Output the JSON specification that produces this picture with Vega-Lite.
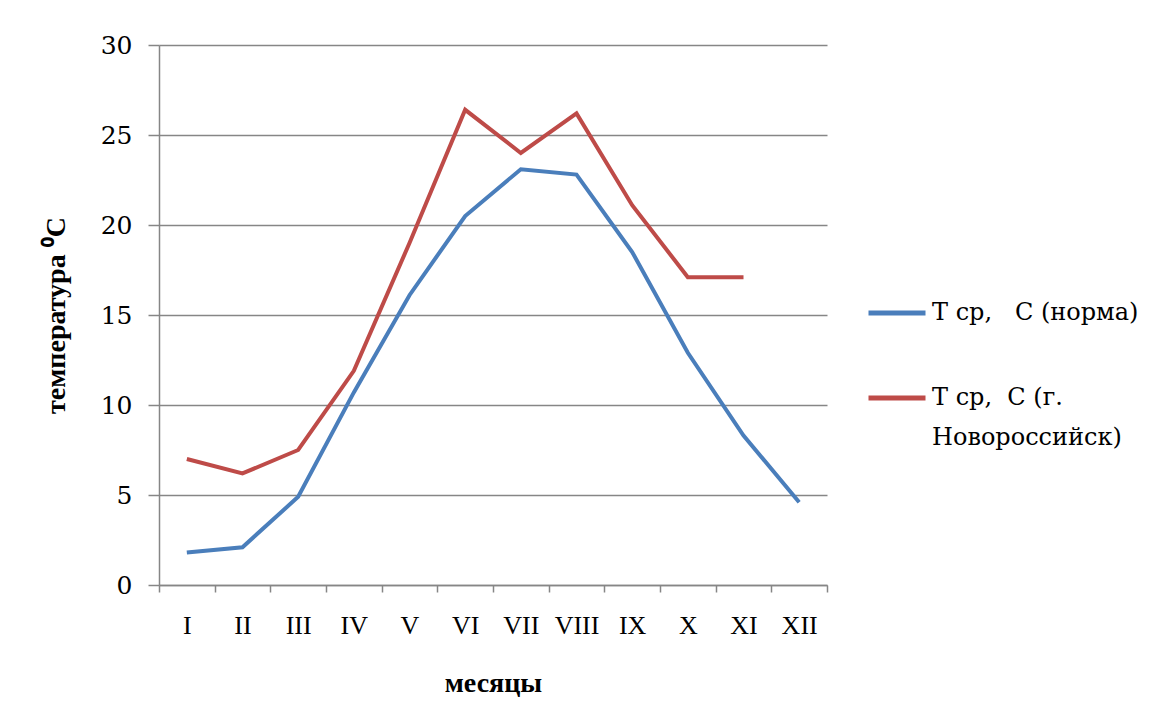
{
  "$schema": "https://vega.github.io/schema/vega-lite/v6.json",
  "width": 668,
  "height": 540,
  "autosize": {"type": "none"},
  "padding": {"left": 159, "top": 45, "right": 335, "bottom": 141},
  "background": "white",
  "config": {
    "view": {"stroke": null},
    "axis": {"labelColor": "black", "titleColor": "black"},
    "legend": {"labelColor": "black"},
    "style": {"guide-label": {"lineHeight": 40}}
  },
  "data": {
    "values": [
      {"month": "I", "series": "Т ср,\u00a0\u00a0 С (норма)", "t": 1.8},
      {"month": "II", "series": "Т ср,\u00a0\u00a0 С (норма)", "t": 2.1},
      {"month": "III", "series": "Т ср,\u00a0\u00a0 С (норма)", "t": 4.9},
      {"month": "IV", "series": "Т ср,\u00a0\u00a0 С (норма)", "t": 10.7},
      {"month": "V", "series": "Т ср,\u00a0\u00a0 С (норма)", "t": 16.1},
      {"month": "VI", "series": "Т ср,\u00a0\u00a0 С (норма)", "t": 20.5},
      {"month": "VII", "series": "Т ср,\u00a0\u00a0 С (норма)", "t": 23.1},
      {"month": "VIII", "series": "Т ср,\u00a0\u00a0 С (норма)", "t": 22.8},
      {"month": "IX", "series": "Т ср,\u00a0\u00a0 С (норма)", "t": 18.5},
      {"month": "X", "series": "Т ср,\u00a0\u00a0 С (норма)", "t": 12.9},
      {"month": "XI", "series": "Т ср,\u00a0\u00a0 С (норма)", "t": 8.3},
      {"month": "XII", "series": "Т ср,\u00a0\u00a0 С (норма)", "t": 4.6},
      {"month": "I", "series": "Т ср,\u00a0 С (г. Новороссийск)", "t": 7.0},
      {"month": "II", "series": "Т ср,\u00a0 С (г. Новороссийск)", "t": 6.2},
      {"month": "III", "series": "Т ср,\u00a0 С (г. Новороссийск)", "t": 7.5},
      {"month": "IV", "series": "Т ср,\u00a0 С (г. Новороссийск)", "t": 11.9},
      {"month": "V", "series": "Т ср,\u00a0 С (г. Новороссийск)", "t": 19.0},
      {"month": "VI", "series": "Т ср,\u00a0 С (г. Новороссийск)", "t": 26.4},
      {"month": "VII", "series": "Т ср,\u00a0 С (г. Новороссийск)", "t": 24.0},
      {"month": "VIII", "series": "Т ср,\u00a0 С (г. Новороссийск)", "t": 26.2},
      {"month": "IX", "series": "Т ср,\u00a0 С (г. Новороссийск)", "t": 21.1},
      {"month": "X", "series": "Т ср,\u00a0 С (г. Новороссийск)", "t": 17.1},
      {"month": "XI", "series": "Т ср,\u00a0 С (г. Новороссийск)", "t": 17.1}
    ]
  },
  "mark": {"type": "line", "strokeWidth": 4, "strokeJoin": "miter"},
  "encoding": {
    "x": {
      "field": "month",
      "type": "nominal",
      "sort": ["I", "II", "III", "IV", "V", "VI", "VII", "VIII", "IX", "X", "XI", "XII"],
      "scale": {"type": "band", "paddingInner": 0, "paddingOuter": 0},
      "axis": {
        "title": "месяцы",
        "titleFont": "Liberation Serif",
        "titleFontSize": 28,
        "titleFontWeight": "bold",
        "titlePadding": 31,
        "labelFont": "Liberation Serif",
        "labelFontSize": 26,
        "labelAngle": 0,
        "labelPadding": 20,
        "tickBand": "extent",
        "tickSize": 7,
        "tickColor": "#868686",
        "tickWidth": 1.5,
        "domainColor": "#868686",
        "domainWidth": 1.5,
        "grid": false
      }
    },
    "y": {
      "field": "t",
      "type": "quantitative",
      "scale": {"domain": [0, 30], "nice": false},
      "axis": {
        "title": "температура ⁰С",
        "titleFont": "Liberation Serif",
        "titleFontSize": 28,
        "titleFontWeight": "bold",
        "titlePadding": 30,
        "labelFont": "DejaVu Serif",
        "labelFontSize": 25,
        "labelPadding": 16,
        "values": [0, 5, 10, 15, 20, 25, 30],
        "tickSize": 11,
        "tickColor": "#868686",
        "tickWidth": 1.5,
        "domainColor": "#868686",
        "domainWidth": 1.5,
        "gridColor": "#868686",
        "gridWidth": 1.5,
        "grid": true
      }
    },
    "color": {
      "field": "series",
      "type": "nominal",
      "scale": {"domain": ["Т ср,\u00a0\u00a0 С (норма)", "Т ср,\u00a0 С (г. Новороссийск)"], "range": ["#4A7EBB", "#BE4B48"]},
      "legend": {
        "title": null,
        "orient": "none",
        "legendX": 707,
        "legendY": 237,
        "symbolType": "stroke",
        "symbolSize": 3249,
        "symbolStrokeWidth": 5,
        "labelFont": "DejaVu Serif",
        "labelFontSize": 24,
        "labelOffset": 4,
        "labelLimit": 400,
        "rowPadding": 42,
        "padding": 0,
        "labelExpr": "indexof(datum.label, 'Новороссийск') >= 0 ? ['Т ср,\u00a0 С (г.', 'Новороссийск)'] : datum.label"
      }
    }
  }
}
